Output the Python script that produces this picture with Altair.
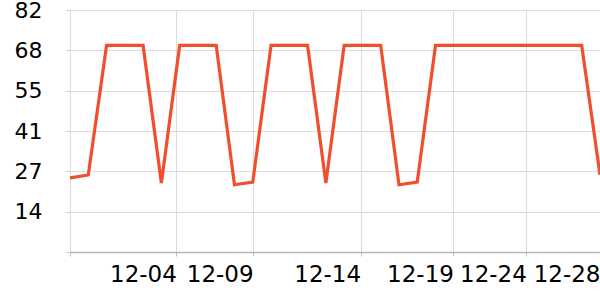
import altair as alt
import pandas as pd

# --- data ---
point_index = list(range(30))
values = [25.1, 26.1, 70, 70, 70, 23.4, 70, 70, 70, 22.8,
          23.7, 70, 70, 70, 23.4, 70, 70, 70, 22.8, 23.7,
          70, 70, 70, 70, 70, 70, 70, 70, 70, 26.2]

x_tick_pos = [0, 5.82, 10.02, 15.9, 20.98, 24.97, 29]
x_tick_labels = ["", "12-04", "12-09", "12-14", "12-19", "12-24", "12-28"]

y_tick_vals = [0, 13.667, 27.333, 41, 54.667, 68.333, 82]
y_tick_labels = ["", "14", "27", "41", "55", "68", "82"]

df = pd.DataFrame({"i": point_index, "v": values})


def label_expr(vals, labels):
    expr = "''"
    for v, l in reversed(list(zip(vals, labels))):
        expr = f"datum.value == {v} ? '{l}' : ({expr})"
    return expr


FONT = "DejaVu Sans"

chart = (
    alt.Chart(df)
    .mark_line(color="#f04e2d", strokeWidth=3.2, clip=False)
    .encode(
        x=alt.X(
            "i:Q",
            scale=alt.Scale(domain=[0, 29], nice=False, zero=False),
            axis=alt.Axis(
                title=None,
                values=x_tick_pos,
                labelExpr=label_expr(x_tick_pos, x_tick_labels),
                labelAlign="right",
                labelBaseline="top",
                labelFontSize=23,
                labelFont=FONT,
                labelColor="#000000",
                labelPadding=7,
                labelOverlap=False,
                labelBound=False,
                labelFlush=False,
                tickSize=4,
                tickColor="#bbbbbb",
                domainColor="#b5b5b5",
                domainWidth=1.5,
                grid=True,
                gridColor="#dcdcdc",
                gridWidth=1,
            ),
        ),
        y=alt.Y(
            "v:Q",
            scale=alt.Scale(domain=[0, 82], nice=False, zero=True),
            axis=alt.Axis(
                title=None,
                values=y_tick_vals,
                labelExpr=label_expr(y_tick_vals, y_tick_labels),
                labelFontSize=22,
                labelFont=FONT,
                labelColor="#000000",
                labelPadding=24,
                tickSize=4,
                tickColor="#cccccc",
                domain=False,
                grid=True,
                gridColor="#dcdcdc",
                gridWidth=1,
            ),
        ),
    )
    .properties(
        width=530,
        height=242,
        autosize=alt.AutoSizeParams(type="none"),
        padding={"left": 70, "top": 10, "right": 0, "bottom": 48},
    )
    .configure_view(stroke=None)
    .configure(background="white")
)

chart.save("out.html", embed_options={"renderer": "svg", "actions": False})
